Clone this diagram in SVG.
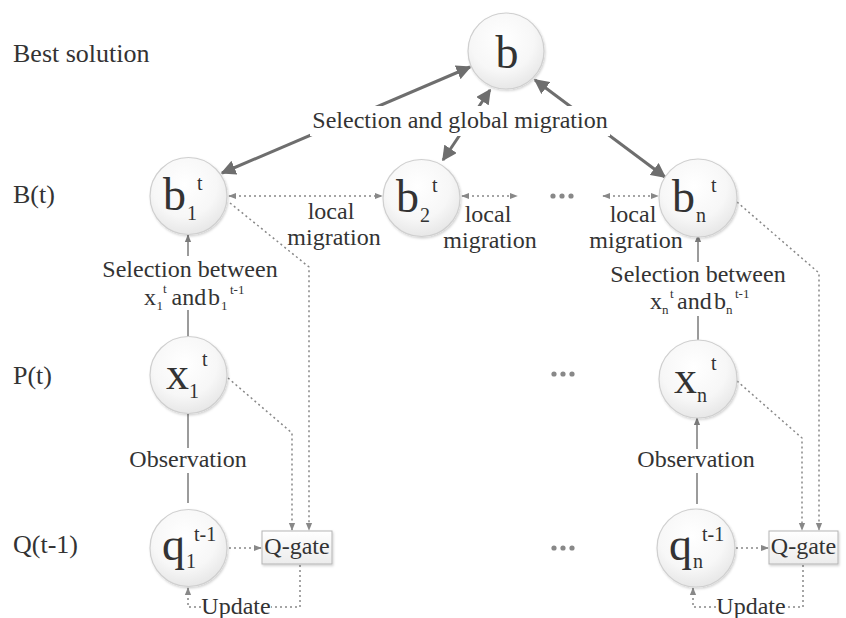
<svg xmlns="http://www.w3.org/2000/svg" width="846" height="618" viewBox="0 0 846 618">
<style>
  text { fill: #333; }
  .lbl { font-size: 26px; }
  .t24 { font-size: 24px; }
  .big { font-size: 46px; }
  .sm { font-size: 20px; }
  .xs { font-size: 13px; }
  .node { fill: url(#ng); stroke: #cfcfcf; stroke-width: 1.2; filter: url(#sh); }
  .box { fill: url(#bg); stroke: #b5b5b5; stroke-width: 1; filter: url(#sh); }
  .thick { stroke: #6e6e6e; stroke-width: 3; fill: none; marker-start: url(#ah); marker-end: url(#ah); }
  .thin { stroke: #7a7a7a; stroke-width: 1.5; fill: none; }
  .dot { stroke: #888; stroke-width: 1.5; fill: none; stroke-dasharray: 2 3; }
  .wbg { fill: #fff; }
  .ell { fill: #888; }
</style>
<defs>
  <radialGradient id="ng" cx="0.45" cy="0.35" r="0.7">
    <stop offset="0" stop-color="#ffffff"/>
    <stop offset="0.6" stop-color="#f7f7f7"/>
    <stop offset="1" stop-color="#e4e4e4"/>
  </radialGradient>
  <linearGradient id="bg" x1="0" y1="0" x2="0" y2="1">
    <stop offset="0" stop-color="#ffffff"/>
    <stop offset="1" stop-color="#ececec"/>
  </linearGradient>
  <filter id="sh" x="-20%" y="-20%" width="140%" height="140%">
    <feDropShadow dx="1" dy="1.5" stdDeviation="1.2" flood-color="#000" flood-opacity="0.18"/>
  </filter>
  <marker id="ah" viewBox="0 0 10 10" refX="9" refY="5" markerWidth="5" markerHeight="5" orient="auto-start-reverse" markerUnits="strokeWidth">
    <path d="M0,0 L10,5 L0,10 z" fill="#6e6e6e"/>
  </marker>
  <marker id="as" viewBox="0 0 10 10" refX="9" refY="5" markerWidth="8" markerHeight="8" orient="auto-start-reverse" markerUnits="userSpaceOnUse">
    <path d="M0,1 L10,5 L0,9 z" fill="#7a7a7a"/>
  </marker>
  <marker id="ad" viewBox="0 0 10 10" refX="9" refY="5" markerWidth="8" markerHeight="8" orient="auto-start-reverse" markerUnits="userSpaceOnUse">
    <path d="M0,1 L10,5 L0,9 z" fill="#888"/>
  </marker>
</defs>
<g font-family="'Liberation Serif', 'DejaVu Serif', 'Times New Roman', serif">

<g id="row-labels">
  <text class="lbl" x="13" y="62">Best solution</text>
  <text class="lbl" x="13" y="203">B(t)</text>
  <text class="lbl" x="13" y="384">P(t)</text>
  <text class="lbl" x="13" y="553">Q(t-1)</text>
</g>

<g id="connectors">
  <line class="thick" x1="222" y1="173" x2="470" y2="67"/>
  <line class="thick" x1="443" y1="160" x2="490" y2="90"/>
  <line class="thick" x1="665" y1="177" x2="535" y2="80"/>
  <rect class="wbg" x="310" y="106" width="300" height="30"/>
  <text class="t24" x="460" y="128" text-anchor="middle">Selection and global migration</text>

  <line class="dot" x1="229" y1="196" x2="382" y2="196" marker-start="url(#ad)" marker-end="url(#ad)"/>
  <line class="dot" x1="462" y1="196" x2="517" y2="196" marker-start="url(#ad)" marker-end="url(#ad)"/>
  <line class="dot" x1="603" y1="196" x2="658" y2="196" marker-start="url(#ad)" marker-end="url(#ad)"/>
  <text class="t24" x="331" y="219" text-anchor="middle">local</text>
  <text class="t24" x="334" y="245" text-anchor="middle">migration</text>
  <text class="t24" x="488" y="222" text-anchor="middle">local</text>
  <text class="t24" x="490" y="248" text-anchor="middle">migration</text>
  <text class="t24" x="633" y="222" text-anchor="middle">local</text>
  <text class="t24" x="636" y="248" text-anchor="middle">migration</text>

  <line class="thin" x1="188" y1="337" x2="188" y2="235" marker-end="url(#as)"/>
  <rect class="wbg" x="96" y="256" width="190" height="54"/>
  <text class="t24" x="190" y="277" text-anchor="middle">Selection between</text>
  <text class="t24" y="305"><tspan x="144">x</tspan><tspan class="xs" x="156.5" y="310">1</tspan><tspan class="xs" x="163" y="293">t</tspan><tspan x="171.5" y="305">and</tspan><tspan x="208" y="305">b</tspan><tspan class="xs" x="221" y="310">1</tspan><tspan class="xs" x="230" y="294">t-1</tspan></text>

  <line class="thin" x1="698" y1="340" x2="698" y2="235" marker-end="url(#as)"/>
  <rect class="wbg" x="606" y="262" width="186" height="54"/>
  <text class="t24" x="698" y="282" text-anchor="middle">Selection between</text>
  <text class="t24" y="309"><tspan x="650">x</tspan><tspan class="xs" x="662" y="314">n</tspan><tspan class="xs" x="670" y="298">t</tspan><tspan x="677" y="309">and</tspan><tspan x="714" y="309">b</tspan><tspan class="xs" x="726" y="314">n</tspan><tspan class="xs" x="735" y="298">t-1</tspan></text>

  <line class="thin" x1="188" y1="414" x2="188" y2="448"/>
  <line class="thin" x1="188" y1="473" x2="188" y2="503"/>
  <text class="t24" x="188" y="467" text-anchor="middle">Observation</text>
  <line class="thin" x1="697" y1="504" x2="697" y2="473"/>
  <line class="thin" x1="697" y1="449" x2="697" y2="418" marker-end="url(#as)"/>
  <text class="t24" x="696" y="467" text-anchor="middle">Observation</text>

  <polyline class="dot" points="230,203 309,267 309,530" marker-end="url(#ad)"/>
  <polyline class="dot" points="228,378 292,433 292,530" marker-end="url(#ad)"/>
  <polyline class="dot" points="737,202 819,273 819,530" marker-end="url(#ad)"/>
  <polyline class="dot" points="737,381 802,438 802,530" marker-end="url(#ad)"/>
  <line class="dot" x1="229" y1="548" x2="261" y2="548" marker-end="url(#ad)"/>
  <line class="dot" x1="736" y1="548" x2="768" y2="548" marker-end="url(#ad)"/>

  <polyline class="dot" points="300,565 300,607 271,607"/>
  <polyline class="dot" points="201,607 188,607 188,588" marker-end="url(#ad)"/>
  <text class="t24" x="236" y="614" text-anchor="middle">Update</text>
  <polyline class="dot" points="803,565 803,607 786,607"/>
  <polyline class="dot" points="716,607 693,607 693,588" marker-end="url(#ad)"/>
  <text class="t24" x="751" y="614" text-anchor="middle">Update</text>
</g>

<g id="ellipses">
  <circle class="ell" cx="553" cy="196" r="2.6"/><circle class="ell" cx="562" cy="196" r="2.6"/><circle class="ell" cx="571" cy="196" r="2.6"/>
  <circle class="ell" cx="554" cy="374" r="2.6"/><circle class="ell" cx="563" cy="374" r="2.6"/><circle class="ell" cx="572" cy="374" r="2.6"/>
  <circle class="ell" cx="554" cy="548" r="2.6"/><circle class="ell" cx="563" cy="548" r="2.6"/><circle class="ell" cx="572" cy="548" r="2.6"/>
</g>

<g id="node-b">
  <circle class="node" cx="506" cy="51" r="38"/>
  <text class="big" x="507" y="68" text-anchor="middle">b</text>
</g>
<g id="node-b1">
  <circle class="node" cx="188.5" cy="196" r="38.5"/>
  <text class="big" x="163" y="210">b<tspan class="sm" x="187" y="220">1</tspan><tspan class="sm" x="197" y="190">t</tspan></text>
</g>
<g id="node-b2">
  <circle class="node" cx="421.5" cy="198" r="38.5"/>
  <text class="big" x="396" y="212">b<tspan class="sm" x="420" y="222">2</tspan><tspan class="sm" x="432" y="192">t</tspan></text>
</g>
<g id="node-bn">
  <circle class="node" cx="698" cy="198" r="39"/>
  <text class="big" x="672" y="212">b<tspan class="sm" x="696" y="222">n</tspan><tspan class="sm" x="711" y="192">t</tspan></text>
</g>
<g id="node-x1">
  <circle class="node" cx="188.5" cy="375" r="38.5"/>
  <text class="big" x="166" y="389">x<tspan class="sm" x="189" y="398">1</tspan><tspan class="sm" x="202" y="366">t</tspan></text>
</g>
<g id="node-xn">
  <circle class="node" cx="698" cy="379" r="39"/>
  <text class="big" x="674" y="393">x<tspan class="sm" x="697" y="402">n</tspan><tspan class="sm" x="711" y="370">t</tspan></text>
</g>
<g id="node-q1">
  <circle class="node" cx="188.5" cy="548" r="38.5"/>
  <text class="big" x="162" y="560">q<tspan class="sm" x="186" y="568">1</tspan><tspan class="sm" x="194" y="541">t-1</tspan></text>
</g>
<g id="node-qn">
  <circle class="node" cx="696" cy="548" r="39"/>
  <text class="big" x="669" y="560">q<tspan class="sm" x="693" y="568">n</tspan><tspan class="sm" x="702" y="541">t-1</tspan></text>
</g>
<g id="node-qgate1">
  <rect class="box" x="262" y="531" width="70" height="33"/>
  <text class="t24" x="297" y="554" text-anchor="middle">Q-gate</text>
</g>
<g id="node-qgaten">
  <rect class="box" x="769" y="531" width="69" height="33"/>
  <text class="t24" x="803.5" y="554" text-anchor="middle">Q-gate</text>
</g>
</g>
</svg>
